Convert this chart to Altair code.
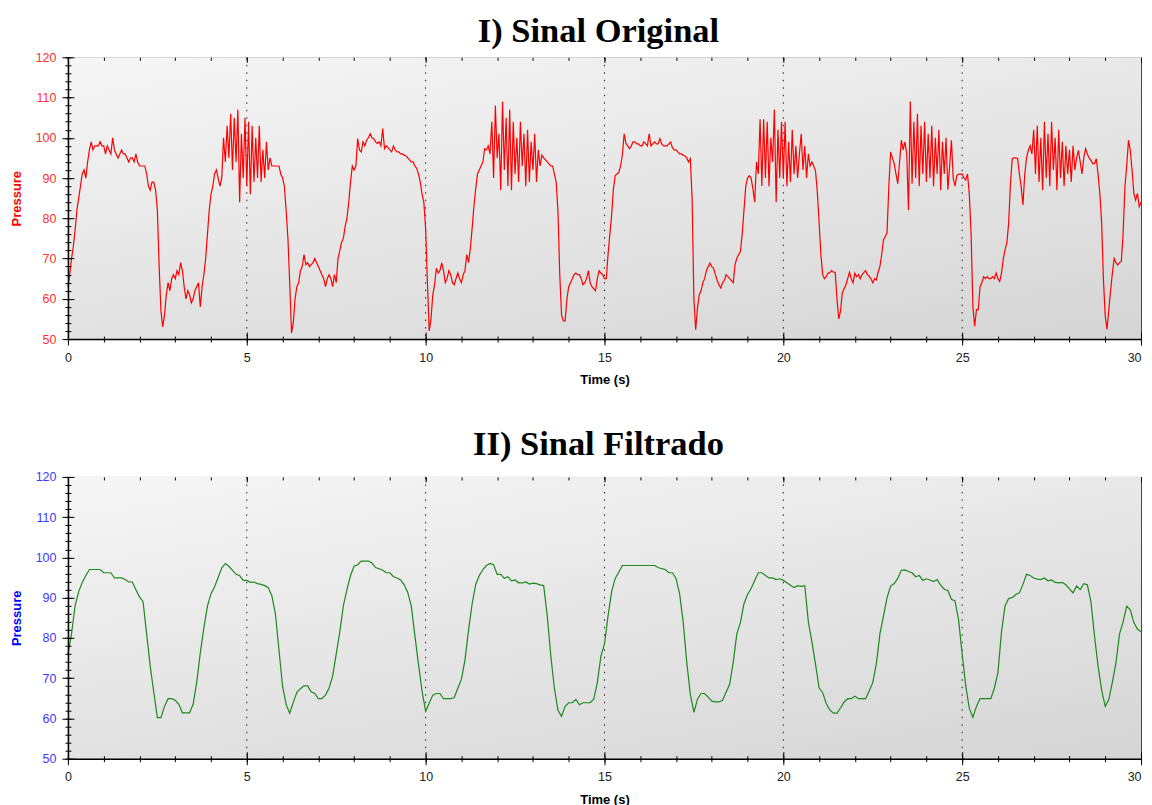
import altair as alt
import pandas as pd

# ---------------- data: original signal, sampled every 0.05 s ----------------
orig_00_05 = [
    63, 66, 70, 73, 77, 82, 85, 88, 91, 92, 90, 94, 97, 99, 97, 98, 98, 98, 99, 98,
    98, 96, 98, 97, 96, 100, 97, 96, 95, 96, 97, 96, 96, 95, 94, 95, 95, 94, 96, 94,
    93, 93, 93, 93, 91, 88, 87, 89, 89, 87, 82, 68, 57, 53, 56, 61, 64, 62, 65, 66,
    65, 67, 66, 69, 67, 63, 60, 62, 61, 59, 60, 62, 63, 64, 58, 63, 66, 70, 76, 82,
    86, 88, 91, 92, 90, 88, 90, 100, 94, 103, 95, 106, 92, 105, 94, 107, 84, 101, 90, 105,
]
orig_05_10 = [
    88, 104, 86, 103, 89, 100, 90, 103, 89, 97, 90, 99, 92, 95, 93, 93, 93, 93, 93, 91,
    90, 88, 82, 75, 64, 51.5, 54, 60, 63, 64, 67, 68, 71, 68.5, 69, 68, 68.5, 69, 70, 69,
    68, 67, 66, 65, 63, 65, 66, 65, 63, 66, 64, 70, 72, 74, 75, 78, 80, 84, 89, 93,
    92, 93, 99.8, 97, 96.5, 99, 98, 99.4, 100, 101, 100, 99.8, 99, 98.6, 99, 98, 102.3, 97.3, 98, 97.5,
    97, 96.5, 98, 97, 96.5, 96.5, 96, 96, 95.7, 95.5, 95, 94.5, 94, 94, 93, 92.4, 91, 89, 86, 84,
]
orig_10_15 = [
    77.5, 64, 52, 55, 61, 63.5, 67.6, 66.4, 67, 68.9, 67, 64, 65, 67, 66, 64, 63.5, 65, 66.4, 65,
    64, 66, 67, 71, 69, 72.5, 77.5, 83, 87.3, 91, 92, 93, 94, 97.3, 97, 98, 96, 104, 90, 108,
    95, 101, 87, 109, 92, 105, 88, 107, 87, 104, 91, 100, 89, 104, 93, 101, 88, 102, 89, 99,
    92, 101, 89, 97, 93, 95.7, 95, 94.5, 94, 93.5, 93, 93, 91, 89, 81.6, 66, 56, 54.5, 54.5, 60,
    63, 64, 65, 66, 66.4, 66, 66, 65, 63.5, 64, 65, 67, 64, 63, 62.5, 62, 65, 67, 66.4, 66,
]
orig_15_20 = [
    65, 65, 71, 76, 80.8, 87.3, 90.6, 91, 91.4, 93, 95.7, 101, 98.6, 98, 97.3, 98, 99, 99, 98.5, 98.5,
    98, 98, 99, 98.5, 98, 101, 98, 98.5, 99, 98.5, 98.5, 99.8, 98.5, 98, 98, 98, 98.5, 99, 97.5, 97,
    97, 96.5, 96, 96, 95.7, 95.5, 95, 94, 94.8, 85, 60, 52.3, 57.7, 61, 62, 64, 65, 67, 68, 68.9,
    68, 67.6, 66, 64.6, 63.5, 62.7, 64, 64.5, 66, 65.5, 65, 64.5, 64, 68.5, 70, 71, 71.7, 76, 82, 88,
    90, 90.6, 90, 87.3, 84, 94, 91, 104.6, 88, 104.6, 90, 104, 88, 100, 94, 107, 84, 102, 90, 104,
]
orig_20_25 = [
    90, 104, 88, 99, 89, 102, 91, 98, 90, 96, 101, 92, 98, 90, 96, 93, 94, 93, 91.8, 86.6,
    79, 71, 66, 65, 65.5, 66.4, 66.5, 67, 66.6, 66.6, 60, 55, 57, 61.5, 62.5, 63.5, 65, 66.6, 65, 64,
    66.4, 65.5, 66, 65, 66, 66.5, 67, 66, 65.6, 65, 64, 65, 64.7, 66.6, 68, 71, 74.6, 75.5, 76.4, 88,
    96.5, 95, 93.6, 91, 88.6, 94, 99.4, 97, 99, 96, 82, 109, 88.6, 104, 90, 106, 88, 103, 91, 104,
    89, 101, 90, 103, 88, 100, 91, 102, 87, 99, 91, 100, 87.1, 93, 99.4, 90, 88, 90.6, 91, 91,
]
orig_25_30 = [
    91, 90, 89.5, 91, 86, 76, 58, 53.2, 57.3, 57.3, 63, 64, 65.5, 65, 65.5, 65, 65, 65.5, 65, 66.4,
    65, 64.3, 66.4, 70, 72.2, 73.9, 78.8, 88.6, 94.8, 95, 95, 94.8, 91, 87.8, 83.3, 91, 95, 96.9, 98, 96,
    102, 91, 103, 89, 100, 87, 104, 90, 101, 88, 104, 92, 100, 87, 102, 90, 99, 88, 98, 91,
    97, 89, 98, 92, 95, 96.9, 94, 91, 95, 97.3, 96, 95, 94.4, 93.6, 93.6, 94.8, 91, 86, 78.8, 64.7,
    55.7, 52.4, 57.3, 62, 66.4, 70, 69, 68.4, 69, 69.3, 76.2, 87.8, 93, 99.4, 96.9, 92, 86.2, 84.5, 86.2, 82.9,
]
orig_last = [84]

# ---------------- data: filtered signal, sampled every 0.1 s ----------------
filt_00_10 = [
    76, 81, 88, 91.5, 93.8, 95.5, 97, 97, 97, 97,
    96.2, 96.2, 96.2, 94.9, 94.9, 94.9, 94.5, 93.9, 93.9, 92,
    90.2, 89, 81, 73, 66.5, 60.2, 60.2, 63, 64.9, 64.9,
    64.5, 63.5, 61.4, 61.4, 61.4, 63.5, 69, 76.3, 82.5, 87.9,
    91, 92.7, 95, 97.4, 98.5, 97.8, 96.8, 95.8, 95.5, 94.3,
    94.3, 93.8, 93.9, 93.5, 93.3, 93, 92.5, 90.5, 86, 77,
    68, 63.5, 61.3, 64, 66.5, 67.4, 68.1, 68.1, 66.6, 66.2,
    64.9, 64.9, 65.8, 67.5, 70.5, 76, 81.5, 88, 92, 95.5,
    97.8, 98.2, 99.1, 99.1, 99.1, 98.6, 97.5, 97.2, 96.8, 96.2,
    96.2, 95.2, 94.9, 94.4, 93.2, 91.3, 87.9, 80.5, 73.5, 66.8,
]
filt_10_20 = [
    61.8, 63.8, 65.8, 66.2, 66.2, 64.9, 64.9, 64.9, 65.2, 67.5,
    69.7, 74.5, 82, 88.5, 93.3, 95.5, 97, 98, 98.5, 98.2,
    95.8, 95.8, 94.8, 95.2, 94.2, 94.4, 93.7, 93.7, 93.9, 93.4,
    93.6, 93.5, 93.2, 93, 85.5, 75.5, 67.5, 62, 60.5, 63,
    63.9, 63.9, 64.7, 63.4, 63.9, 63.9, 63.9, 64.8, 68.9, 75.5,
    78.5, 85.5, 91.5, 94.8, 96.3, 98, 98, 98, 98, 98,
    98, 98, 98, 98, 98, 97.5, 97.2, 97, 96.2, 96.2,
    94.8, 91, 84, 74, 66, 61.5, 64.8, 66.2, 66.2, 65.3,
    64.3, 64.1, 64.1, 64.5, 66.5, 68.5, 74, 81, 83.8, 88.5,
    90.8, 92.3, 94.3, 96.2, 96.2, 95.5, 94.9, 94.9, 94.5, 94.7,
]
filt_20_30 = [
    94.3, 93.7, 93.1, 92.5, 93, 92.8, 93, 84, 79, 73.5,
    67.6, 66.4, 63.7, 62.1, 61.3, 61.3, 62.6, 64.1, 64.9, 64.9,
    65.5, 64.9, 64.9, 64.9, 66.8, 68.9, 73.5, 81, 85.4, 90,
    92.9, 93.5, 94.8, 96.8, 96.9, 96.5, 96.2, 95.2, 95.5, 94.3,
    94.7, 94.4, 94, 94.5, 93.1, 92.1, 91.8, 89.6, 89.2, 84.5,
    76, 68.1, 62.5, 60.3, 63, 64.9, 64.9, 64.9, 64.9, 67.5,
    71.4, 81.5, 88, 89.8, 90, 90.8, 91.2, 93.3, 95.8, 95.5,
    94.9, 94.6, 94.5, 94.9, 94.2, 94.4, 93.8, 93.7, 93.8, 93.2,
    92.2, 91.2, 92.9, 92, 93.5, 93.2, 89, 80.5, 73, 67,
    63, 64.7, 69, 73.8, 81, 84, 87.9, 87, 83.8, 82.2,
]
filt_last = [81.5]

# ---------------- axis tick values ----------------
X_MAJOR = [0, 5, 10, 15, 20, 25, 30]
X_MINOR = list(range(0, 31))
X_GRID = [5, 10, 15, 20, 25]
Y_MAJOR = [50, 60, 70, 80, 90, 100, 110, 120]
Y_MINOR = list(range(50, 121, 2))

orig_values = orig_00_05 + orig_05_10 + orig_10_15 + orig_15_20 + orig_20_25 + orig_25_30 + orig_last
orig_time = [round(i * 0.05, 2) for i in range(len(orig_values))]
filt_values = filt_00_10 + filt_10_20 + filt_20_30 + filt_last
filt_time = [round(i * 0.1, 1) for i in range(len(filt_values))]

W, H = 1074, 282
SANS = "Liberation Sans"
SERIF = "Liberation Serif"

BG = alt.LinearGradient(
    gradient="linear",
    x1=0, y1=0, x2=0.737, y2=1.166,
    stops=[alt.GradientStop(color="#f6f6f6", offset=0),
           alt.GradientStop(color="#d5d5d5", offset=1)],
)


def tick_axis(orient, values, size, offset):
    return alt.Axis(orient=orient, values=values, tickSize=size, offset=offset,
                    labels=False, domain=False, grid=False, title=None,
                    tickColor="#000", tickWidth=1, zindex=2)


def panel(times, values, line_color, label_color, title_color, title_text, title_offset):
    df = pd.DataFrame({"t": times, "v": values})
    xs = alt.Scale(domain=[0, 30], nice=False, zero=False)
    ys = alt.Scale(domain=[50, 120], nice=False, zero=False)

    bg = alt.Chart(pd.DataFrame({"k": [0]})).mark_rect(fill=BG, strokeWidth=0).encode(
        x=alt.value(0), x2=alt.value("width"), y=alt.value(0), y2=alt.value("height"))

    grid = alt.Chart(pd.DataFrame({"g": X_GRID})).mark_rule(
        color="#222", strokeDash=[1.5, 6], strokeWidth=1).encode(
        x=alt.X("g:Q", scale=xs, axis=None), y=alt.value(0), y2=alt.value("height"))

    x_main = alt.Axis(orient="bottom", values=X_MAJOR, title="Time (s)", tickSize=6,
                      tickColor="#000", tickWidth=1, domainColor="#000", domainWidth=1.5,
                      labelColor="#222", labelFont=SANS, labelFontSize=12.5, labelPadding=6,
                      labelFlush=False,
                      labelAlign=alt.condition("datum.value == 30", alt.value("right"), alt.value("center")),
                      titleFont=SANS, titleFontSize=13, titleFontWeight="bold",
                      titleColor="#000", titlePadding=10, grid=False, zindex=2)
    y_main = alt.Axis(orient="left", values=Y_MAJOR, title="Pressure", tickSize=6,
                      tickColor="#000", tickWidth=1, domainColor="#000", domainWidth=1.5,
                      labelColor=label_color, labelFont=SANS, labelFontSize=12.5, labelPadding=6,
                      labelFlush=False, titleFont=SANS, titleFontSize=13, titleFontWeight="bold",
                      titleColor=title_color, titlePadding=12, grid=False, zindex=2)

    line = alt.Chart(df).mark_line(color=line_color, strokeWidth=1.2).encode(
        x=alt.X("t:Q", scale=xs, axis=x_main),
        y=alt.Y("v:Q", scale=ys, axis=y_main))

    def carrier(xa, ya):
        return alt.Chart(df).mark_line(strokeOpacity=0).encode(
            x=alt.X("t:Q", scale=xs, axis=xa),
            y=alt.Y("v:Q", scale=ys, axis=ya))

    c1 = carrier(tick_axis("bottom", X_MINOR, 3, 0), tick_axis("left", Y_MINOR, 3, 0))
    c2 = carrier(tick_axis("bottom", X_MAJOR, 7, -7), tick_axis("left", Y_MAJOR, 6, -6))
    c3 = carrier(tick_axis("bottom", X_MINOR, 3, -3), tick_axis("left", Y_MINOR, 3, -3))
    # ticks hanging down from the top border: bottom-oriented axes moved up by the plot height
    c4 = carrier(tick_axis("bottom", X_MINOR, 3, -H), None)
    c5 = carrier(tick_axis("bottom", X_MAJOR, 5, -H), None)

    return alt.layer(bg, grid, line, c1, c2, c3, c4, c5).resolve_axis(
        x="independent", y="independent").properties(
        width=W, height=H,
        title=alt.TitleParams(text=title_text, font=SERIF, fontSize=34.5, fontWeight="bold",
                              color="#000", anchor="middle", frame="group",
                              offset=title_offset, dx=-6))


top = panel(orig_time, orig_values, "#ff0000", "#ff3030", "#ff0000", "I) Sinal Original", 2)
bottom = panel(filt_time, filt_values, "#1a8a1a", "#3a3aff", "#0000ff", "II) Sinal Filtrado", 8)

chart = alt.vconcat(top, bottom, spacing=40).properties(
    padding={"left": 1, "top": 5, "right": 0, "bottom": 0},
    background="white",
).configure_view(stroke="#444", strokeWidth=1)

chart.save("out.html", embed_options={"renderer": "svg", "actions": False})
